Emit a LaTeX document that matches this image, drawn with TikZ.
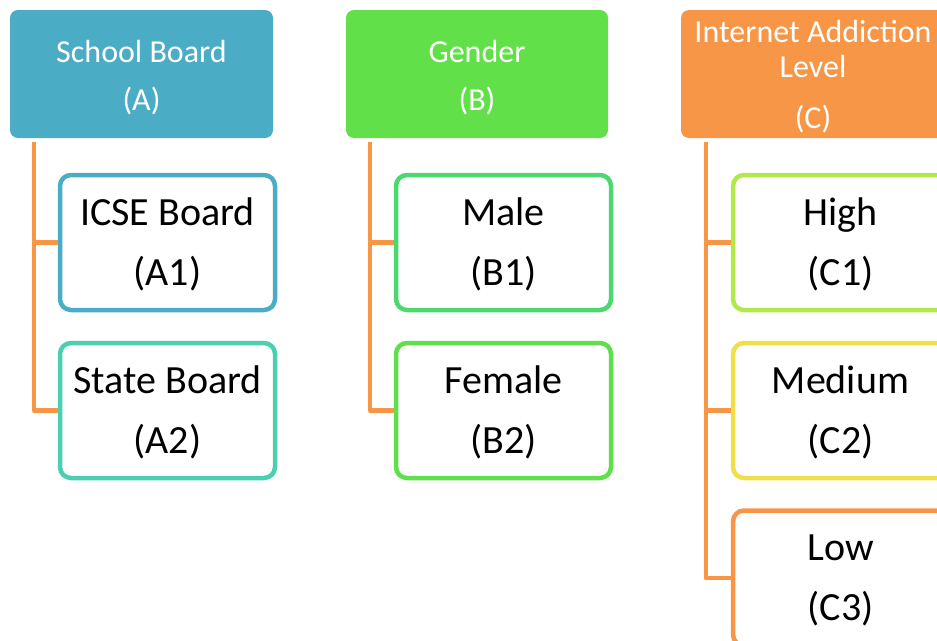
\documentclass[tikz,border=0pt]{standalone}
\usepackage{fontspec}
\setmainfont{Carlito}
\definecolor{cA}{HTML}{4BACC6}
\definecolor{cAtwo}{HTML}{4BCFB0}
\definecolor{cB}{HTML}{62E04A}
\definecolor{cBone}{HTML}{4CD771}
\definecolor{cBtwo}{HTML}{5EDF4B}
\definecolor{cC}{HTML}{F79646}
\definecolor{cCone}{HTML}{B3E84B}
\definecolor{cCtwo}{HTML}{EFE04A}
\definecolor{cCthree}{HTML}{F79646}
\definecolor{conncol}{HTML}{F79646}
\tikzset{
  headbox/.style={rectangle, rounded corners=8pt, minimum width=263pt, minimum height=128pt,
    text=white, align=center, inner sep=0pt, text height=72pt, text depth=0pt,
    font=\fontsize{32}{48}\selectfont},
  childbox/.style={rectangle, rounded corners=11pt, draw=#1, line width=4.5pt, fill=white,
    minimum width=215pt, minimum height=135pt, text=black, align=center, inner sep=0pt,
    text height=85pt, text depth=0pt, font=\fontsize{40}{60}\selectfont},
  conn/.style={draw=conncol, line width=4.5pt, line join=round}
}
\begin{document}
\begin{tikzpicture}[x=1pt,y=-1pt]
\useasboundingbox (0,0) rectangle (937,640);
\clip (0,0) rectangle (937,640);
% headers
\node[headbox, fill=cA] (A) at (141.5,74) {School Board\\(A)};
\node[headbox, fill=cB, minimum width=262pt] (B) at (477,74) {Gender\\(B)};
\node[headbox, fill=cC, minimum width=264pt, text height=108pt, font=\fontsize{32}{35}\selectfont] (C) at (813,74)
  {Internet Addiction\\Level\\[16pt](C)};
% children
\node[childbox=cA] (A1) at (167.5,242.5) {ICSE Board\\(A1)};
\node[childbox=cAtwo] (A2) at (167.5,410.5) {State Board\\(A2)};
\node[childbox=cBone] (B1) at (503.5,242.5) {Male\\(B1)};
\node[childbox=cBtwo] (B2) at (503.5,410.5) {Female\\(B2)};
\node[childbox=cCone] (C1) at (840.5,242.5) {High\\(C1)};
\node[childbox=cCtwo] (C2) at (840.5,410.5) {Medium\\(C2)};
\node[childbox=cCthree] (C3) at (840.5,578) {Low\\(C3)};
% connector origins
\coordinate (a0) at ([xshift=24pt,yshift=-4pt]A.south west);
\coordinate (b0) at ([xshift=24pt,yshift=-4pt]B.south west);
\coordinate (c0) at ([xshift=25pt,yshift=-4pt]C.south west);
% connectors
\draw[conn] (a0) |- (A2.west);
\draw[conn] (A1.west) -- (A1.west -| a0);
\draw[conn] (b0) |- (B2.west);
\draw[conn] (B1.west) -- (B1.west -| b0);
\draw[conn] (c0) |- (C3.west);
\draw[conn] (C1.west) -- (C1.west -| c0);
\draw[conn] (C2.west) -- (C2.west -| c0);
\end{tikzpicture}
\end{document}
